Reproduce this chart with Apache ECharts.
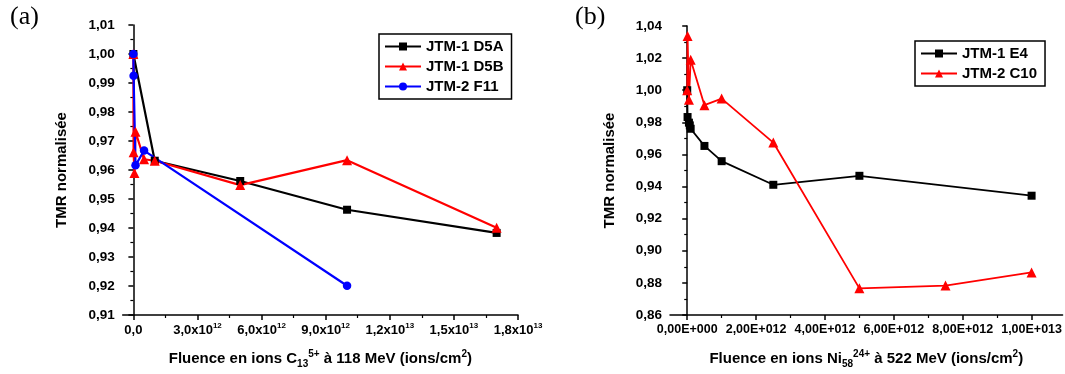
<!DOCTYPE html>
<html>
<head>
<meta charset="utf-8">
<script src="https://cdn.jsdelivr.net/npm/echarts@6/dist/echarts.min.js"></script>
<style>
html,body{margin:0;padding:0;background:#fff;}
#c{width:1065px;height:374px;}
</style>
</head>
<body>
<div id="c"></div>
<script>
// ---------- Panel (a) data ----------
var aBlackName = 'JTM-1 D5A';
var aBlackX = [0, 1e12, 5e12, 1e13, 1.7e13];
var aBlackY = [1.000, 0.9632, 0.9562, 0.9463, 0.9383];

var aRedName = 'JTM-1 D5B';
var aRedX = [0, 1e10, 5e10, 1e11, 5e11, 1e12, 5e12, 1e13, 1.7e13];
var aRedY = [1.000, 0.9661, 0.9590, 0.9732, 0.9637, 0.9632, 0.9548, 0.9634, 0.9401];

var aBlueName = 'JTM-2 F11';
var aBlueX = [0, 1e10, 1e11, 5e11, 1e13];
var aBlueY = [1.000, 0.9925, 0.9616, 0.9667, 0.9201];

var aXTicks = [0, 3e12, 6e12, 9e12, 1.2e13, 1.5e13, 1.8e13];
var aXMinor = [1.5e12, 4.5e12, 7.5e12, 1.05e13, 1.35e13, 1.65e13];

// ---------- Panel (b) data ----------
var bBlackName = 'JTM-1 E4';
var bBlackX = [0, 1e10, 5e10, 7.5e10, 1e11, 5e11, 1e12, 2.5e12, 5e12, 1e13];
var bBlackY = [1.000, 0.9833, 0.9798, 0.9781, 0.9760, 0.9653, 0.9558, 0.9411, 0.9467, 0.9343];

var bRedName = 'JTM-2 C10';
var bRedX = [0, 1e10, 5e10, 1e11, 5e11, 1e12, 2.5e12, 5e12, 7.5e12, 1e13];
var bRedY = [1.000, 1.0338, 0.9940, 1.0190, 0.9907, 0.9948, 0.9674, 0.8766, 0.8783, 0.8865];

var bXTicks = [0, 2e12, 4e12, 6e12, 8e12, 1e13];
var bXMinor = [1e12, 3e12, 5e12, 7e12, 9e12];

// ---------- helpers ----------
function zip(xs, ys){ return xs.map(function(x,i){ return [x, ys[i]]; }); }
var FONT = 'Liberation Sans, Arial, sans-serif';
var richSup = {
  sup: {fontSize: 8, fontWeight: 'bold', fontFamily: FONT, color: '#000', lineHeight: 9, verticalAlign: 'top'},
  sub: {fontSize: 8, fontWeight: 'bold', fontFamily: FONT, color: '#000', lineHeight: 9, verticalAlign: 'bottom'}
};
var richTitle = {
  sup: {fontSize: 10, fontWeight: 'bold', fontFamily: FONT, color: '#000', lineHeight: 10, verticalAlign: 'top'},
  sub: {fontSize: 10, fontWeight: 'bold', fontFamily: FONT, color: '#000', lineHeight: 10, verticalAlign: 'bottom'}
};
function fmtA(v){
  if (Math.abs(v) < 1) return '0,0';
  var e = Math.floor(Math.log10(v) + 1e-9);
  var m = v / Math.pow(10, e);
  return m.toFixed(1).replace('.', ',') + 'x10{sup|' + e + '}';
}
function fmtB(v){
  if (Math.abs(v) < 1) return '0,00E+000';
  var e = Math.floor(Math.log10(v) + 1e-9);
  var m = v / Math.pow(10, e);
  var es = String(e); while (es.length < 3) es = '0' + es;
  return m.toFixed(2).replace('.', ',') + 'E+' + es;
}
function fmtY(v){ return v.toFixed(2).replace('.', ','); }

var axisLineStyle = {show: true, lineStyle: {color: '#000', width: 1.5}};
function lbl(size){ return {color: '#000', fontSize: size, fontWeight: 'bold', fontFamily: FONT}; }

function majorX(grid, min, max, ticks, fmt, size, name, nameRich){
  return {
    type: 'value', gridIndex: grid, min: min, max: max, position: 'bottom',
    axisLine: axisLineStyle,
    axisTick: {show: true, customValues: ticks, length: 5, lineStyle: {color: '#000', width: 1.5}},
    axisLabel: Object.assign({show: true, customValues: ticks, formatter: fmt, margin: 7, lineHeight: 16, rich: richSup}, lbl(size)),
    splitLine: {show: false},
    name: name, nameLocation: 'middle', nameGap: 34,
    nameTextStyle: {color: '#000', fontSize: 15, fontWeight: 'bold', fontFamily: FONT, lineHeight: 20, rich: nameRich}
  };
}
function minorX(grid, min, max, ticks){
  return {
    type: 'value', gridIndex: grid, min: min, max: max, position: 'bottom',
    axisLine: {show: false},
    axisTick: {show: true, customValues: ticks, length: 3, lineStyle: {color: '#000', width: 1.2}},
    axisLabel: {show: false},
    splitLine: {show: false}
  };
}
function yAxis(grid, min, max, interval){
  return {
    type: 'value', gridIndex: grid, min: min, max: max, interval: interval,
    axisLine: axisLineStyle,
    axisTick: {show: true, length: 5, lineStyle: {color: '#000', width: 1.5}},
    minorTick: {show: true, splitNumber: 2, length: 3, lineStyle: {color: '#000', width: 1.2}},
    axisLabel: Object.assign({formatter: fmtY, margin: 8}, lbl(13.5)),
    splitLine: {show: false}, minorSplitLine: {show: false},
    name: 'TMR normalisée', nameLocation: 'middle', nameGap: 53, nameRotate: 90,
    nameTextStyle: {color: '#000', fontSize: 15, fontWeight: 'bold', fontFamily: FONT}
  };
}
function lineSeries(name, color, symbol, size, xi, yi, data, width){
  return {
    name: name, type: 'line', xAxisIndex: xi, yAxisIndex: yi, data: data,
    symbol: symbol, symbolSize: size, showSymbol: true,
    lineStyle: {color: color, width: width}, itemStyle: {color: color},
    animation: false, z: 3
  };
}
function legend(left, top, names){
  return {
    orient: 'vertical', left: left, top: top, data: names,
    itemWidth: 36, itemHeight: 10, itemGap: 5,
    padding: [5, 8, 5, 5],
    borderColor: '#000', borderWidth: 1.5, backgroundColor: '#fff',
    textStyle: {color: '#000', fontSize: 15, fontWeight: 'bold', fontFamily: FONT, lineHeight: 15},
    selectedMode: false
  };
}

var chart = echarts.init(document.getElementById('c'), null, {renderer: 'canvas'});
chart.setOption({
  backgroundColor: '#fff',
  animation: false,
  grid: [
    {left: 122.7, right: 1065 - 518, top: 25, bottom: 374 - 315, containLabel: false},
    {left: 670, right: 1, top: 26, bottom: 374 - 316.7, containLabel: false}
  ],
  xAxis: [
    majorX(0, -5e11, 1.8e13, aXTicks, fmtA, 13, 'Fluence en ions C{sub|13}{sup|5+} à 118 MeV (ions/cm{sup|2})', richTitle),
    minorX(0, -5e11, 1.8e13, aXMinor),
    majorX(1, -5e11, 1.09e13, bXTicks, fmtB, 12.5, 'Fluence en ions Ni{sub|58}{sup|24+} à 522 MeV (ions/cm{sup|2})', richTitle),
    minorX(1, -5e11, 1.09e13, bXMinor)
  ],
  yAxis: [
    yAxis(0, 0.91, 1.01, 0.01),
    yAxis(1, 0.86, 1.04, 0.02)
  ],
  legend: [
    legend(379, 34, [aBlackName, aRedName, aBlueName]),
    legend(915, 41, [bBlackName, bRedName])
  ],
  graphic: [
    {type: 'text', left: 10, top: 4, style: {text: '(a)', fontSize: 26, fontFamily: 'Liberation Serif, Times New Roman, serif', fill: '#000'}},
    {type: 'text', left: 575, top: 4, style: {text: '(b)', fontSize: 26, fontFamily: 'Liberation Serif, Times New Roman, serif', fill: '#000'}}
  ],
  series: [
    lineSeries(aBlackName, '#000000', 'rect', 8, 0, 0, zip(aBlackX, aBlackY), 2.2),
    lineSeries(aRedName, '#ff0000', 'triangle', 10, 0, 0, zip(aRedX, aRedY), 2.2),
    lineSeries(aBlueName, '#0000ff', 'circle', 8.5, 0, 0, zip(aBlueX, aBlueY), 2.2),
    lineSeries(bBlackName, '#000000', 'rect', 8, 2, 1, zip(bBlackX, bBlackY), 1.8),
    lineSeries(bRedName, '#ff0000', 'triangle', 10, 2, 1, zip(bRedX, bRedY), 1.8)
  ]
});
</script>
</body>
</html>
